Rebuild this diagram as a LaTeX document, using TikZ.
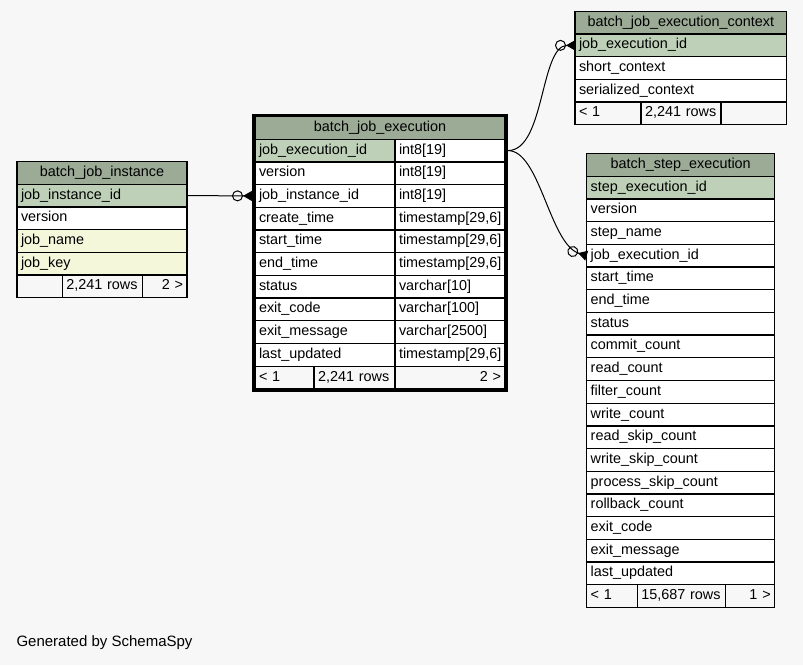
\documentclass[tikz,border=0pt]{standalone}
\usepackage{fontspec}
\setmainfont{Liberation Sans}
\usepackage{tikz}
\usetikzlibrary{arrows.meta}
\definecolor{fondgris}{HTML}{F7F7F7}
\definecolor{hdrgreen}{HTML}{9BAB96}
\definecolor{pkgreen}{HTML}{BED1B8}
\definecolor{idxyellow}{HTML}{F4F7DA}
\tikzstyle{cellule}=[draw, fill=white, anchor=north west, outer sep=0pt, inner xsep=4pt, inner ysep=0pt, minimum height=22.7pt, text height=10pt, text depth=3pt, align=left, line width=1.3pt, font=\fontsize{14.4}{16}\selectfont]
\newcommand{\cellule}{\node[cellule]}

\begin{document}
\begin{tikzpicture}[x=1pt, y=-1pt]
	\tikzstyle{entete}=[fill=hdrgreen, align=center]
	\tikzstyle{pk}=[fill=pkgreen]
	\tikzstyle{idx}=[fill=idxyellow]
	\tikzstyle{pied}=[fill=fondgris]
	\tikzstyle{lien}=[draw, line width=1pt, -{Circle[open, length=11pt, width=11pt] Triangle[reversed, length=9pt, width=10pt]}]
	\fill[fondgris] (0,0) rectangle (803,665);
	\useasboundingbox (0,0) rectangle (803,665);
	% Table batch_job_instance
	\cellule[entete, text width=162pt] (ji-head) at (17,161.5) {batch\_job\_instance};
	\cellule[pk, text width=162pt] (ji-id) at (17,184.2) {job\_instance\_id};
	\cellule[text width=162pt] (ji-ver) at (17,206.9) {version};
	\cellule[idx, text width=162pt] (ji-name) at (17,229.6) {job\_name};
	\cellule[idx, text width=162pt] (ji-key) at (17,252.3) {job\_key};
	\cellule[pied, text width=37.3pt] (ji-ft1) at (17,275) {};
	\cellule[pied, text width=72.4pt] (ji-ft2) at (62.3,275) {2,241 rows};
	\cellule[pied, text width=36.3pt, align=right] (ji-ft3) at (142.7,275) {2 >};
	% Table batch_job_execution
	\cellule[entete, text width=242pt] (je-head) at (255,116.5) {batch\_job\_execution};
	\cellule[pk, text width=132pt] (je-id) at (255,139.2) {job\_execution\_id};
	\cellule[text width=102pt] (je-idt) at (395,139.2) {int8[19]};
	\cellule[text width=132pt] (je-ver) at (255,161.9) {version};
	\cellule[text width=102pt] (je-vert) at (395,161.9) {int8[19]};
	\cellule[text width=132pt] (je-inst) at (255,184.6) {job\_instance\_id};
	\cellule[text width=102pt] (je-instt) at (395,184.6) {int8[19]};
	\cellule[text width=132pt] (je-ct) at (255,207.3) {create\_time};
	\cellule[text width=102pt] (je-ctt) at (395,207.3) {timestamp[29,6]};
	\cellule[text width=132pt] (je-st) at (255,230) {start\_time};
	\cellule[text width=102pt] (je-stt) at (395,230) {timestamp[29,6]};
	\cellule[text width=132pt] (je-et) at (255,252.7) {end\_time};
	\cellule[text width=102pt] (je-ett) at (395,252.7) {timestamp[29,6]};
	\cellule[text width=132pt] (je-stat) at (255,275.4) {status};
	\cellule[text width=102pt] (je-statt) at (395,275.4) {varchar[10]};
	\cellule[text width=132pt] (je-ec) at (255,298.1) {exit\_code};
	\cellule[text width=102pt] (je-ect) at (395,298.1) {varchar[100]};
	\cellule[text width=132pt] (je-em) at (255,320.8) {exit\_message};
	\cellule[text width=102pt] (je-emt) at (395,320.8) {varchar[2500]};
	\cellule[text width=132pt] (je-lu) at (255,343.5) {last\_updated};
	\cellule[text width=102pt] (je-lut) at (395,343.5) {timestamp[29,6]};
	\cellule[pied, text width=51pt] (je-ft1) at (255,366.2) {< 1};
	\cellule[pied, text width=73pt] (je-ft2) at (314,366.2) {2,241 rows};
	\cellule[pied, text width=102pt, align=right] (je-ft3) at (395,366.2) {2 >};
	\draw[line width=3pt] ([shift={(-1.5,-1.5)}]je-head.north west) rectangle ([shift={(1.5,1.5)}]je-ft3.south east);
	% Table batch_job_execution_context
	\cellule[entete, text width=203.7pt] (jc-head) at (575,11.3) {batch\_job\_execution\_context};
	\cellule[pk, text width=203.7pt] (jc-id) at (575,34) {job\_execution\_id};
	\cellule[text width=203.7pt] (jc-short) at (575,56.7) {short\_context};
	\cellule[text width=203.7pt] (jc-ser) at (575,79.4) {serialized\_context};
	\cellule[pied, text width=58pt] (jc-ft1) at (575,102.1) {< 1};
	\cellule[pied, text width=72pt] (jc-ft2) at (641,102.1) {2,241 rows};
	\cellule[pied, text width=57.7pt] (jc-ft3) at (721,102.1) {};
	% Table batch_step_execution
	\cellule[entete, text width=180pt] (se-head) at (586.7,153.5) {batch\_step\_execution};
	\cellule[pk, text width=180pt] (se-id) at (586.7,176.2) {step\_execution\_id};
	\cellule[text width=180pt] (se-ver) at (586.7,198.9) {version};
	\cellule[text width=180pt] (se-name) at (586.7,221.6) {step\_name};
	\cellule[text width=180pt] (se-job) at (586.7,244.3) {job\_execution\_id};
	\cellule[text width=180pt] (se-st) at (586.7,267) {start\_time};
	\cellule[text width=180pt] (se-et) at (586.7,289.7) {end\_time};
	\cellule[text width=180pt] (se-stat) at (586.7,312.4) {status};
	\cellule[text width=180pt] (se-cc) at (586.7,335.1) {commit\_count};
	\cellule[text width=180pt] (se-rc) at (586.7,357.8) {read\_count};
	\cellule[text width=180pt] (se-fc) at (586.7,380.5) {filter\_count};
	\cellule[text width=180pt] (se-wc) at (586.7,403.2) {write\_count};
	\cellule[text width=180pt] (se-rsc) at (586.7,425.9) {read\_skip\_count};
	\cellule[text width=180pt] (se-wsc) at (586.7,448.6) {write\_skip\_count};
	\cellule[text width=180pt] (se-psc) at (586.7,471.3) {process\_skip\_count};
	\cellule[text width=180pt] (se-rbc) at (586.7,494) {rollback\_count};
	\cellule[text width=180pt] (se-ec) at (586.7,516.7) {exit\_code};
	\cellule[text width=180pt] (se-em) at (586.7,539.4) {exit\_message};
	\cellule[text width=180pt] (se-lu) at (586.7,562.1) {last\_updated};
	\cellule[pied, text width=42.6pt] (se-ft1) at (586.7,584.8) {< 1};
	\cellule[pied, text width=80pt] (se-ft2) at (637.3,584.8) {15,687 rows};
	\cellule[pied, text width=41.4pt, align=right] (se-ft3) at (725.3,584.8) {1 >};
	% Liens
	\path[lien] (ji-id.east) -- ([xshift=-3pt]je-inst.west);
	\path[lien] ([xshift=3pt]je-idt.east) .. controls +(37,0) and +(-35,0) .. (jc-id.west);
	\path[lien] ([xshift=3pt]je-idt.east) .. controls +(32,0) and +(-37,-11) .. (se-job.west);
	\node[anchor=west, font=\fontsize{15}{17}\selectfont] (gen) at (13,643) {Generated by SchemaSpy};
\end{tikzpicture}
\end{document}
